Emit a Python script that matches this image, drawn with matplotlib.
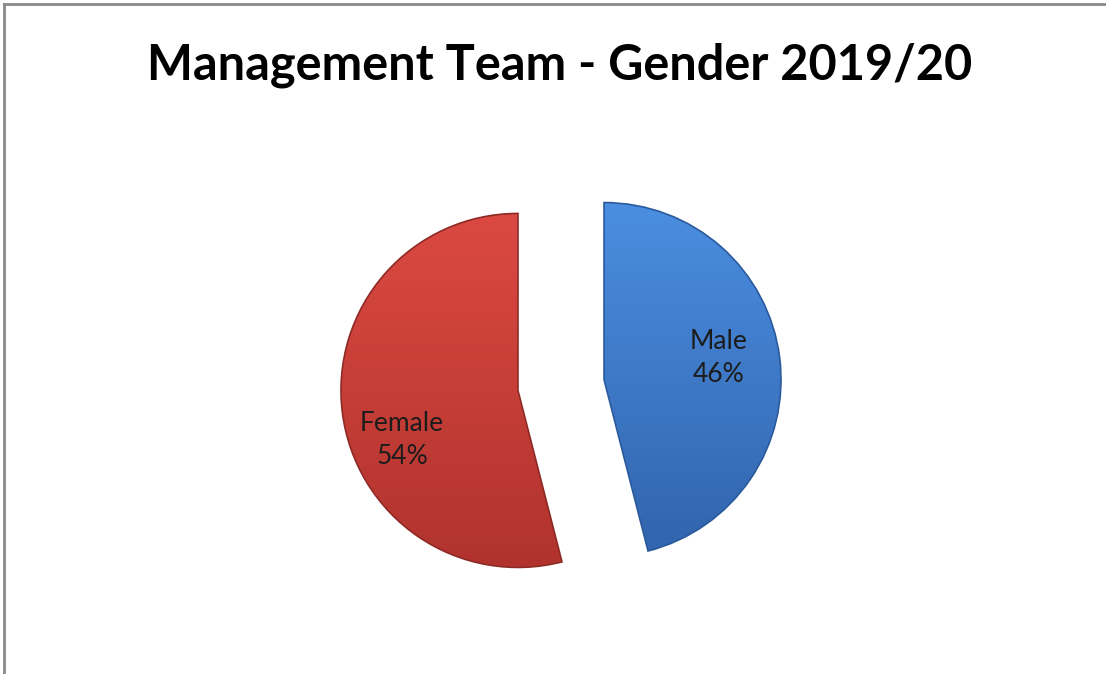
import numpy as np
import matplotlib
matplotlib.use("Agg")
import matplotlib.pyplot as plt
from matplotlib.colors import LinearSegmentedColormap
from matplotlib.lines import Line2D

# Data
title = "Management Team - Gender 2019/20"
categories = ["Male", "Female"]
shares = [46, 54]

# Styling
top_colors = ["#4c8fe2", "#dc4a42"]
bottom_colors = ["#3063ab", "#b0322d"]
edge_colors = ["#2a5a9c", "#8e2a26"]
explode_amount = 0.245
W, H, DPI = 1106, 674, 100
center_px = (561, 385)
radius_px = 177

plt.rcParams["font.family"] = ["Lato", "DejaVu Sans"]

fig = plt.figure(figsize=(W / DPI, H / DPI), dpi=DPI)
fig.patch.set_facecolor("white")
ax = fig.add_axes([0, 0, 1, 1])

label_iter = iter(categories)
wedges, texts, autotexts = ax.pie(
    shares,
    explode=[explode_amount] * len(shares),
    startangle=-90,
    counterclock=True,
    radius=1.0,
    center=(0, 0),
    autopct=lambda p: f"{next(label_iter)}\n{p:.0f}%",
    pctdistance=0.66,
    textprops=dict(fontsize=19, color="#1c1c1c", linespacing=1.4),
    wedgeprops=dict(linewidth=1.2),
    frame=False,
)

# vertical gradient fill clipped to each wedge
grad = np.linspace(0, 1, 256).reshape(-1, 1)
for w, c_top, c_bot, c_edge in zip(wedges, top_colors, bottom_colors, edge_colors):
    w.set_facecolor("none")
    w.set_edgecolor(c_edge)
    w.set_zorder(3)
    cx, cy = w.center
    cmap = LinearSegmentedColormap.from_list("g", [c_top, c_bot])
    im = ax.imshow(grad, cmap=cmap, aspect="auto",
                   extent=(cx - 1.05, cx + 1.05, cy + 1.05, cy - 1.05),
                   interpolation="bilinear", zorder=2)
    im.set_clip_path(w)

# nudge labels toward the visual centre of each slice
label_offsets = [(-0.01, -0.04), (0.0, 0.20)]
for t, (dx, dy) in zip(autotexts, label_offsets):
    x, y = t.get_position()
    t.set_position((x + dx, y + dy))
    t.set_zorder(5)

# one data unit equals the pie radius; y grows downward on screen
ax.set_xlim(-center_px[0] / radius_px, (W - center_px[0]) / radius_px)
ax.set_ylim((H - center_px[1]) / radius_px, -center_px[1] / radius_px)
ax.set_aspect("equal")
ax.set_axis_off()

fig.text(560 / W, 1 - 65 / H, title, ha="center", va="center",
         fontsize=35, fontweight="bold", color="black")

# chart frame (left and top edges)
fx, fy = 4 / W, 1 - 4 / H
fig.add_artist(Line2D([fx, fx], [0, fy], transform=fig.transFigure,
                      color="#8a8a8a", linewidth=2))
fig.add_artist(Line2D([fx, 1], [fy, fy], transform=fig.transFigure,
                      color="#8a8a8a", linewidth=2))

fig.savefig("out.png", dpi=DPI, facecolor="white")
